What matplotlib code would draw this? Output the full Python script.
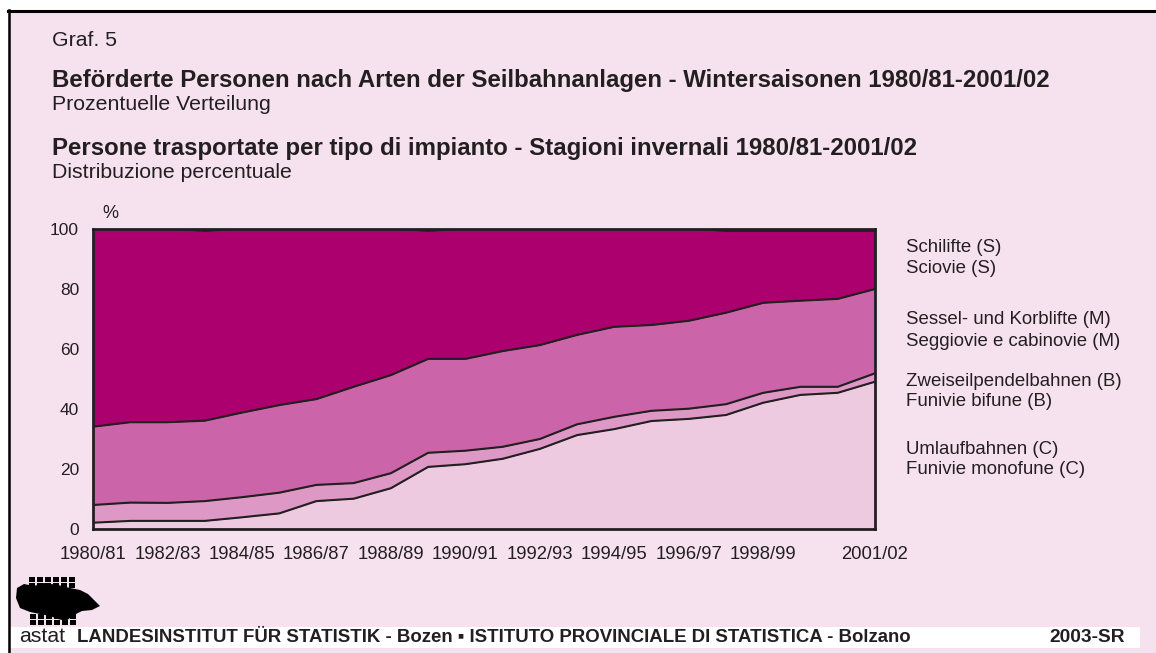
import matplotlib
matplotlib.use("Agg")
import matplotlib.pyplot as plt
import matplotlib.patches as mpatches
import numpy as np

plt.rcParams['font.family'] = ['Liberation Sans', 'DejaVu Sans']

seasons = ["1980/81", "1981/82", "1982/83", "1983/84", "1984/85", "1985/86", "1986/87",
           "1987/88", "1988/89", "1989/90", "1990/91", "1991/92", "1992/93", "1993/94",
           "1994/95", "1995/96", "1996/97", "1997/98", "1998/99", "1999/00", "2000/01", "2001/02"]
tick_labels = ["1980/81", "1982/83", "1984/85", "1986/87", "1988/89", "1990/91",
               "1992/93", "1994/95", "1996/97", "1998/99", "2001/02"]
tick_idx = [0, 2, 4, 6, 8, 10, 12, 14, 16, 18, 21]

# Shares in percent
umlauf_C = [2.1, 2.7, 2.7, 2.7, 3.9, 5.2, 9.3, 10.1, 13.6, 20.7, 21.6, 23.4, 26.7, 31.3,
            33.3, 36.0, 36.7, 38.0, 42.1, 44.7, 45.4, 49.1]
zweiseil_B = [5.9, 6.1, 6.0, 6.6, 6.7, 6.9, 5.4, 5.2, 5.0, 4.7, 4.5, 4.0, 3.3, 3.6,
              4.1, 3.4, 3.4, 3.6, 3.3, 2.7, 2.0, 2.8]
sessel_M = [26.1, 26.8, 26.9, 26.8, 28.2, 29.2, 28.6, 32.1, 32.7, 31.3, 30.6, 31.9, 31.3, 29.8,
            30.0, 28.6, 29.3, 30.5, 30.0, 28.7, 29.3, 28.1]
schilifte_S = [65.9, 64.4, 64.4, 63.1, 61.2, 58.7, 56.7, 52.6, 48.7, 42.5, 43.3, 40.7, 38.7, 35.3,
               32.6, 32.0, 30.6, 27.1, 23.8, 23.1, 22.5, 19.2]

legend_lines = [("Schilifte (S)", "Sciovie (S)"),
                ("Sessel- und Korblifte (M)", "Seggiovie e cabinovie (M)"),
                ("Zweiseilpendelbahnen (B)", "Funivie bifune (B)"),
                ("Umlaufbahnen (C)", "Funivie monofune (C)")]

W, H = 1156, 653
BG = "#F6E2EF"
DARK = "#231F20"
fig = plt.figure(figsize=(W / 100, H / 100), dpi=100)
fig.patch.set_facecolor(BG)

def fx(x):
    return x / W

def fy(y):
    return 1 - y / H

# white margins & border
fig.patches.append(mpatches.Rectangle((0, fy(10)), 1, 1 - fy(10), transform=fig.transFigure,
                                      facecolor="white", edgecolor="none", zorder=0))
fig.patches.append(mpatches.Rectangle((0, 0), fx(8), 1, transform=fig.transFigure,
                                      facecolor="white", edgecolor="none", zorder=0))
fig.add_artist(plt.Line2D([fx(8), 1], [fy(10.5), fy(10.5)], transform=fig.transFigure, color="black", lw=2.2))
fig.add_artist(plt.Line2D([fx(8.5), fx(8.5)], [0, fy(10)], transform=fig.transFigure, color="black", lw=1.8))
# footer band
fig.patches.append(mpatches.Rectangle((fx(10), fy(648)), fx(1130), fy(627) - fy(648), transform=fig.transFigure,
                                      facecolor="white", edgecolor="none", zorder=0))

ax = fig.add_axes([fx(93), fy(529), fx(875) - fx(93), fy(229) - fy(529)])
ax.set_facecolor(DARK)
x = np.arange(len(seasons))
c = np.array(umlauf_C)
b = c + np.array(zweiseil_B)
m = b + np.array(sessel_M)
s = m + np.array(schilifte_S)
colors = ["#EECAE1", "#DE98C6", "#CB64A8", "#AC006E"]
ax.fill_between(x, 0, c, color=colors[0], lw=0)
ax.fill_between(x, c, b, color=colors[1], lw=0)
ax.fill_between(x, b, m, color=colors[2], lw=0)
ax.fill_between(x, m, s, color=colors[3], lw=0)
for arr in (c, b, m):
    ax.plot(x, arr, color=DARK, lw=1.5, solid_joinstyle="miter")
ax.set_xlim(0, len(seasons) - 1)
ax.set_ylim(0, 100)
for sp in ax.spines.values():
    sp.set_color(DARK)
    sp.set_linewidth(2)
ax.set_yticks([0, 20, 40, 60, 80, 100])
ax.set_xticks(tick_idx)
ax.set_xticklabels(tick_labels)
ax.tick_params(axis="both", length=0, colors=DARK)
ax.tick_params(axis="y", pad=10, labelsize=12.5)
ax.tick_params(axis="x", pad=12, labelsize=13.3)

# texts
fig.text(fx(52), fy(40), "Graf. 5", fontsize=15.3, va="center", ha="left", color=DARK)
fig.text(fx(52), fy(80), "Beförderte Personen nach Arten der Seilbahnanlagen - Wintersaisonen 1980/81-2001/02",
         fontsize=17.3, fontweight="bold", va="center", ha="left", color=DARK)
fig.text(fx(52), fy(104), "Prozentuelle Verteilung", fontsize=15.3, va="center", ha="left", color=DARK)
fig.text(fx(52), fy(148), "Persone trasportate per tipo di impianto - Stagioni invernali 1980/81-2001/02",
         fontsize=17.3, fontweight="bold", va="center", ha="left", color=DARK)
fig.text(fx(52), fy(172), "Distribuzione percentuale", fontsize=15.3, va="center", ha="left", color=DARK)
fig.text(fx(110), fy(213), "%", fontsize=13, va="center", ha="center", color=DARK)

leg_y = [248, 320, 381, 449]
for (l1, l2), yy in zip(legend_lines, leg_y):
    fig.text(fx(906), fy(yy), l1, fontsize=13.4, va="center", ha="left", color=DARK)
    fig.text(fx(906), fy(yy + 21), l2, fontsize=13.4, va="center", ha="left", color=DARK)

# footer
fig.text(fx(19), fy(637), "astat", fontsize=15.3, va="center", ha="left", color=DARK)
fig.text(fx(77), fy(638), "LANDESINSTITUT FÜR STATISTIK - Bozen \u25AA ISTITUTO PROVINCIALE DI STATISTICA - Bolzano",
         fontsize=13.45, fontweight="bold", va="center", ha="left", color=DARK)
fig.text(fx(1125), fy(638), "2003-SR", fontsize=13.8, fontweight="bold", va="center", ha="right", color=DARK)

# logo approximation
blob = [(16, 598), (17, 588), (24, 584), (34, 586), (44, 583), (58, 585), (70, 588), (80, 590),
        (88, 594), (94, 600), (100, 606), (92, 610), (82, 611), (74, 615), (66, 621), (58, 619),
        (50, 616), (40, 614), (30, 612), (20, 608)]
fig.patches.append(mpatches.Polygon([(fx(px), fy(py)) for px, py in blob], closed=True,
                                    transform=fig.transFigure, facecolor="black", edgecolor="none"))
for row in range(2):
    for k in range(6):
        fig.patches.append(mpatches.Rectangle((fx(29 + k * 8), fy(577 + row * 6 + 5)), fx(6), fy(577) - fy(582),
                                              transform=fig.transFigure, facecolor="black", edgecolor="none"))
for row in range(2):
    for k in range(6):
        fig.patches.append(mpatches.Rectangle((fx(30 + k * 8), fy(614 + row * 6 + 5)), fx(6), fy(577) - fy(582),
                                              transform=fig.transFigure, facecolor="black", edgecolor="none"))

fig.savefig("out.png", dpi=100, facecolor=BG)
